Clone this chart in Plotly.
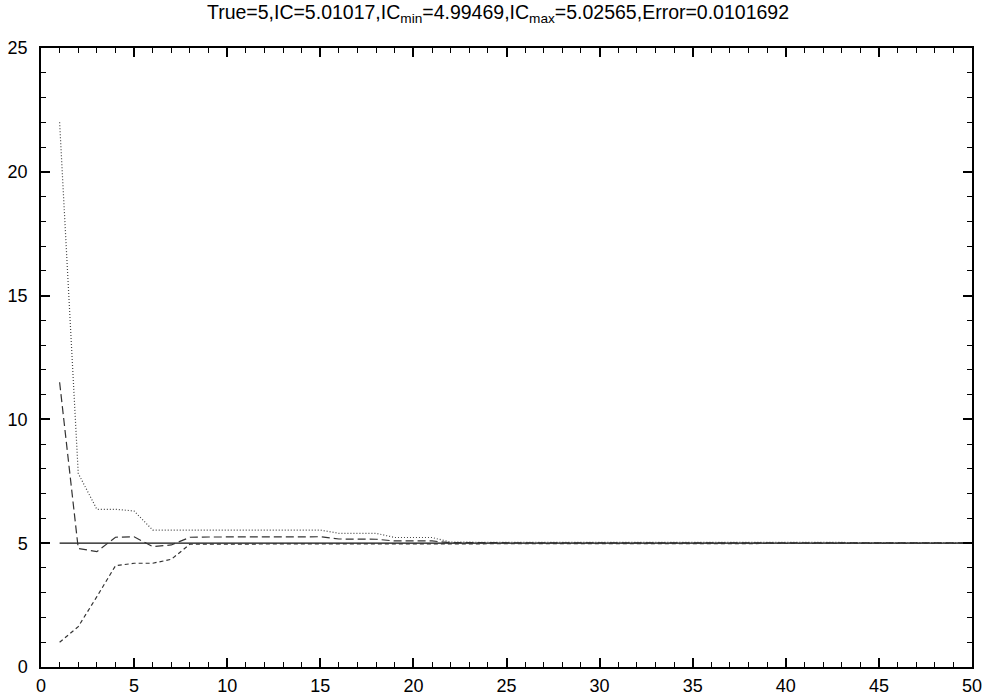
import plotly.graph_objects as go

x = list(range(1, 51))
true_val = [5.0] * 50
ic = [11.5, 4.79, 4.66, 5.24, 5.26, 4.86, 4.93, 5.24, 5.25, 5.25,
      5.26, 5.26, 5.26, 5.26, 5.26, 5.17, 5.16, 5.16, 5.09, 5.09,
      5.09, 5.02, 5.02, 5.02, 5.015, 5.015, 5.015, 5.014, 5.014, 5.013,
      5.013, 5.013, 5.012, 5.012, 5.012, 5.012, 5.011, 5.011, 5.011, 5.011,
      5.011, 5.011, 5.010, 5.010, 5.010, 5.010, 5.010, 5.010, 5.010, 5.01017]
ic_min = [1.0, 1.63, 2.84, 4.09, 4.19, 4.19, 4.35, 4.96, 4.96, 4.97,
          4.97, 4.97, 4.97, 4.97, 4.97, 4.975, 4.975, 4.975, 4.98, 4.98,
          4.98, 4.985, 4.985, 4.986, 4.987, 4.988, 4.988, 4.989, 4.989, 4.990,
          4.990, 4.991, 4.991, 4.991, 4.992, 4.992, 4.992, 4.993, 4.993, 4.993,
          4.993, 4.994, 4.994, 4.994, 4.994, 4.994, 4.9945, 4.9945, 4.9946, 4.99469]
ic_max = [22.0, 7.82, 6.37, 6.37, 6.30, 5.53, 5.53, 5.53, 5.53, 5.53,
          5.53, 5.53, 5.53, 5.53, 5.53, 5.40, 5.40, 5.40, 5.23, 5.23,
          5.23, 5.04, 5.04, 5.04, 5.038, 5.037, 5.036, 5.035, 5.035, 5.034,
          5.033, 5.033, 5.032, 5.032, 5.031, 5.031, 5.030, 5.030, 5.029, 5.029,
          5.028, 5.028, 5.028, 5.027, 5.027, 5.027, 5.026, 5.026, 5.026, 5.02565]

title_text = ("True=5,IC=5.01017,IC<sub>min</sub>=4.99469,"
              "IC<sub>max</sub>=5.02565,Error=0.0101692")

fig = go.Figure()
fig.add_trace(go.Scatter(x=x, y=true_val, mode="lines", name="True",
                         line=dict(color="#111111", width=1.2)))
fig.add_trace(go.Scatter(x=x, y=ic_max, mode="lines", name="ICmax",
                         line=dict(color="#444444", width=1.2, dash="1px,2px")))
fig.add_trace(go.Scatter(x=x, y=ic, mode="lines", name="IC",
                         line=dict(color="#333333", width=1.2, dash="8px,4px")))
fig.add_trace(go.Scatter(x=x, y=ic_min, mode="lines", name="ICmin",
                         line=dict(color="#333333", width=1.2, dash="4px,3px")))

axis_common = dict(
    showgrid=False, zeroline=False, showline=True, linecolor="black",
    linewidth=1.5, mirror="allticks", ticks="inside", ticklen=9,
    tickwidth=1.5, tickcolor="black", automargin=False,
    tickfont=dict(family="Liberation Sans, Arial, sans-serif", size=18,
                  color="black"),
    minor=dict(ticks="inside", ticklen=5, tickwidth=1.2, tickcolor="black",
               dtick=1, showgrid=False),
)

fig.update_layout(
    width=996, height=697,
    margin=dict(l=41, r=24, t=48, b=30, autoexpand=False),
    paper_bgcolor="white", plot_bgcolor="white",
    showlegend=False,
    title=dict(text=title_text, x=0.5, xanchor="center", y=0.983,
               yanchor="middle", automargin=False,
               font=dict(family="Liberation Sans, Arial, sans-serif",
                         size=19.5, color="black")),
    xaxis=dict(range=[0, 50], dtick=5, tick0=0, ticklabelstandoff=2,
               **axis_common),
    yaxis=dict(range=[0, 25], dtick=5, tick0=0, ticklabelstandoff=8,
               **axis_common),
)

fig.write_html("out.html",
               config={"displayModeBar": False},
               post_script="document.body.style.margin='0';"
                           "document.body.style.overflow='hidden';")
